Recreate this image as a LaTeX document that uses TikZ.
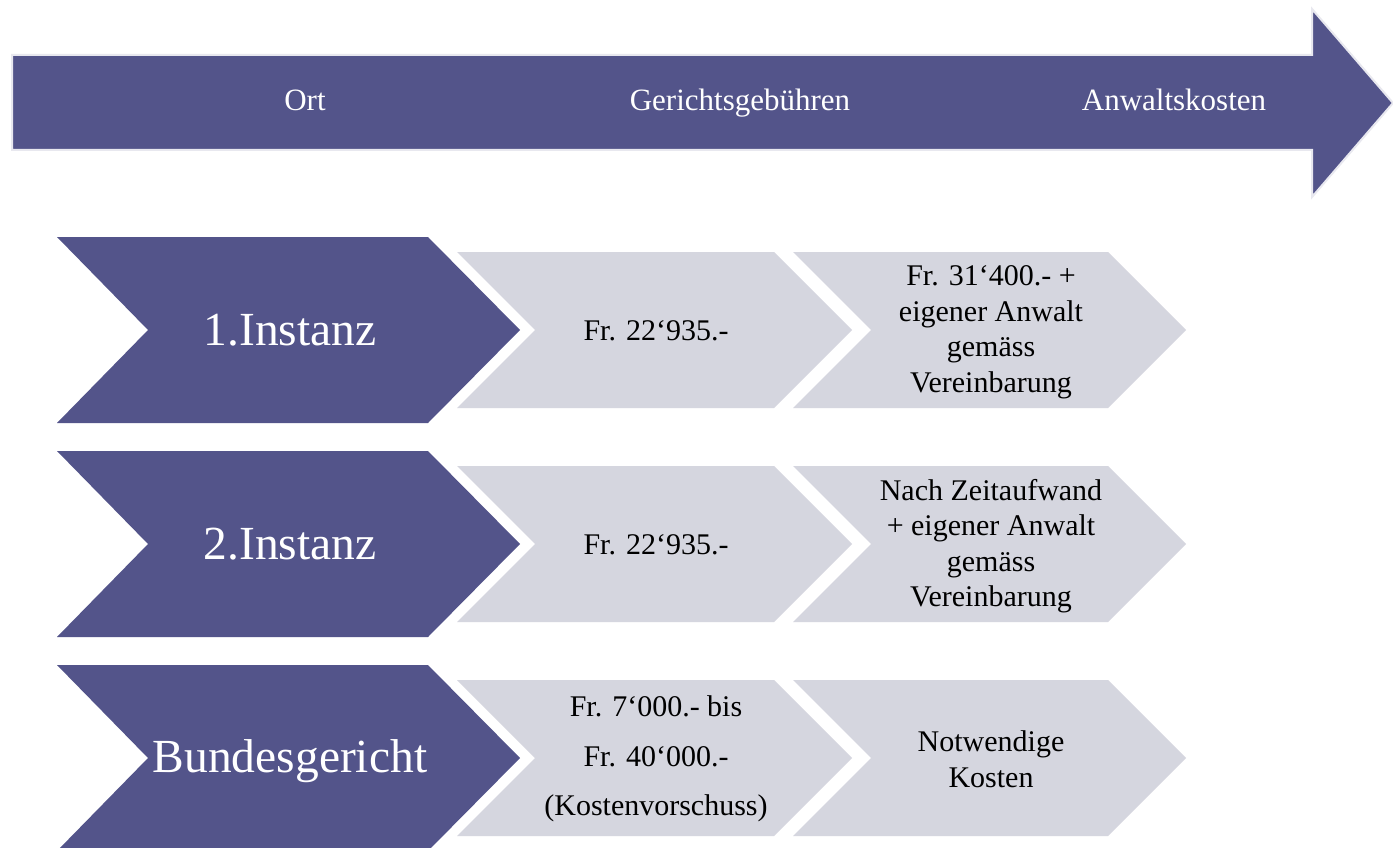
\documentclass[tikz,border=0pt]{standalone}
\usepackage{fontspec}
\setmainfont{Liberation Serif}
\definecolor{purp}{HTML}{53548A}
\definecolor{greyc}{HTML}{D5D6DF}
\definecolor{rim}{HTML}{E8E8EF}
\tikzset{
  toplabel/.style={text=white,font=\fontsize{31}{37}\selectfont,inner sep=0pt,anchor=base},
  biglabel/.style={text=white,font=\fontsize{47.5}{56}\selectfont,inner sep=0pt,anchor=base},
  greylabel/.style={text=black,font=\fontsize{30}{35.5}\selectfont,align=center,inner sep=0pt},
  purpshape/.style={fill=purp},
  greyshape/.style={fill=greyc}
}
\begin{document}
\begin{tikzpicture}[x=1pt,y=-1pt]
\useasboundingbox (0,0) rectangle (1393,848);
\fill[white] (0,0) rectangle (1393,848);
% top arrow
\draw[rim,line width=2pt,fill=purp,line join=miter]
  (12,55) -- (1312,55) -- (1312,9) -- (1393,103) -- (1312,197) -- (1312,150) -- (12,150) -- cycle;
\node[toplabel] (ort) at (305,111) {Ort};
\node[toplabel] (geb) at (740,111) {Gerichtsgebühren};
\node[toplabel] (anw) at (1174,111) {Anwaltskosten};
% rows
\foreach \c in {330,544,758}{
  \fill[purpshape] (57,{\c-93}) -- (428,{\c-93}) -- (520,\c) -- (428,{\c+93}) -- (57,{\c+93}) -- (148,\c) -- cycle;
  \fill[greyshape] (457,{\c-78}) -- (774,{\c-78}) -- (852,\c) -- (774,{\c+78}) -- (457,{\c+78}) -- (535,\c) -- cycle;
  \fill[greyshape] (793,{\c-78}) -- (1108,{\c-78}) -- (1186,\c) -- (1108,{\c+78}) -- (793,{\c+78}) -- (871,\c) -- cycle;
}
\node[biglabel] (r1) at (290,345) {1.Instanz};
\node[biglabel] (r2) at (290,559) {2.Instanz};
\node[biglabel] (r3) at (290,772) {Bundesgericht};
\node[greylabel] (g11) at (656,331) {Fr. 22‘935.-};
\node[greylabel] (g12) at (991,332) {Fr. 31‘400.- +\\eigener Anwalt\\gemäss\\Vereinbarung};
\node[greylabel] (g21) at (656,545) {Fr. 22‘935.-};
\node[greylabel] (g22) at (991,546) {Nach Zeitaufwand\\+ eigener Anwalt\\gemäss\\Vereinbarung};
\node[greylabel,font=\fontsize{30}{49.5}\selectfont] (g31) at (656,759) {Fr. 7‘000.- bis\\Fr. 40‘000.-\\(Kostenvorschuss)};
\node[greylabel] (g32) at (991,759) {Notwendige\\Kosten};
\end{tikzpicture}
\end{document}
